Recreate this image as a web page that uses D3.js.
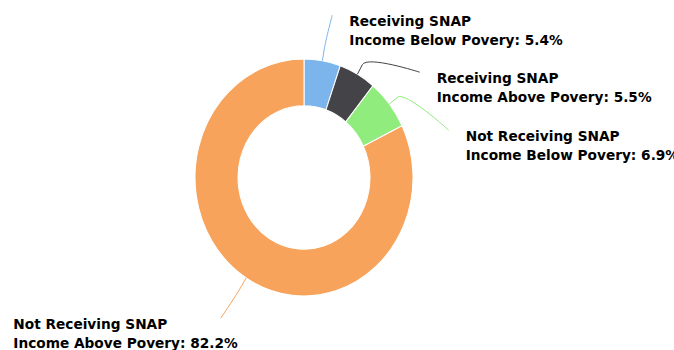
<!DOCTYPE html>
<html>
<head>
<meta charset="utf-8">
<script src="https://cdn.jsdelivr.net/npm/d3@7"></script>
<style>
  body { margin: 0; background: #fff; }
  svg { display: block; }
  .lbl { font-family: "DejaVu Sans", Verdana, sans-serif; font-weight: bold; font-size: 13.7px; fill: #000; }
</style>
</head>
<body>
<svg id="chart" width="674" height="350"></svg>
<script>
// data
const lineOne = ["Receiving SNAP", "Receiving SNAP", "Not Receiving SNAP", "Not Receiving SNAP"];
const lineTwo = ["Income Below Povery", "Income Above Povery", "Income Below Povery", "Income Above Povery"];
const values = [5.4, 5.5, 6.9, 82.2];
const colors = ["#7cb5ec", "#434348", "#90ed7d", "#f7a35c"];

// where each label sits (x of text, baseline of first line, side)
const labelPos = [[349.3, 25.7, "right"], [436.7, 82.7, "right"], [465.7, 140.7, "right"], [13.3, 328.7, "left"]];

const svg = d3.select("#chart");
const cx = 304, cy = 177.5, outerR = 109, innerR = 66, sy = 1.087;

const pie = d3.pie().sort(null).value(d => d)
const arcs = pie(values);
const arc = d3.arc().innerRadius(innerR).outerRadius(outerR);

const donut = svg.append("g")
    .attr("transform", `translate(${cx},${cy}) scale(1,${sy})`);

donut.selectAll("path")
    .data(arcs)
    .enter().append("path")
    .attr("d", arc)
    .attr("fill", (d, i) => colors[i])
    .attr("stroke", "#fff")
    .attr("stroke-width", 1);

// point on the outer rim at a given angle, screen coords
const rim = (a, r) => [cx + r * Math.sin(a), cy - r * sy * Math.cos(a)];

const labels = svg.append("g");

arcs.forEach((d, i) => {
    const [x, y, side] = labelPos[i];
    const t = labels.append("text")
        .attr("class", "lbl")
        .attr("transform", `translate(${x},${y}) scale(1,1.07)`);
    t.append("tspan").attr("x", 0).attr("y", 0).text(lineOne[i]);
    t.append("tspan").attr("x", 0).attr("y", 18).text(`${lineTwo[i]}: ${values[i]}%`);

    const w = t.node().getBBox().width;
    const mid = (d.startAngle + d.endAngle) / 2;
    const A = rim(mid, outerR);
    const B = rim(mid, outerR + 10);
    // connector end sits a bit off the label edge
    const ex = side === "right" ? x - 17 : x + w - 17;
    const ey = y - 10.5;
    const path = d3.path();
    path.moveTo(ex, ey);
    path.bezierCurveTo(ex, ey, 2 * B[0] - A[0], 2 * B[1] - A[1], B[0], B[1]);
    path.lineTo(A[0], A[1]);

    labels.append("path")
        .attr("d", path.toString())
        .attr("fill", "none")
        .attr("stroke", colors[i])
        .attr("stroke-width", 1);
});
</script>
</body>
</html>
